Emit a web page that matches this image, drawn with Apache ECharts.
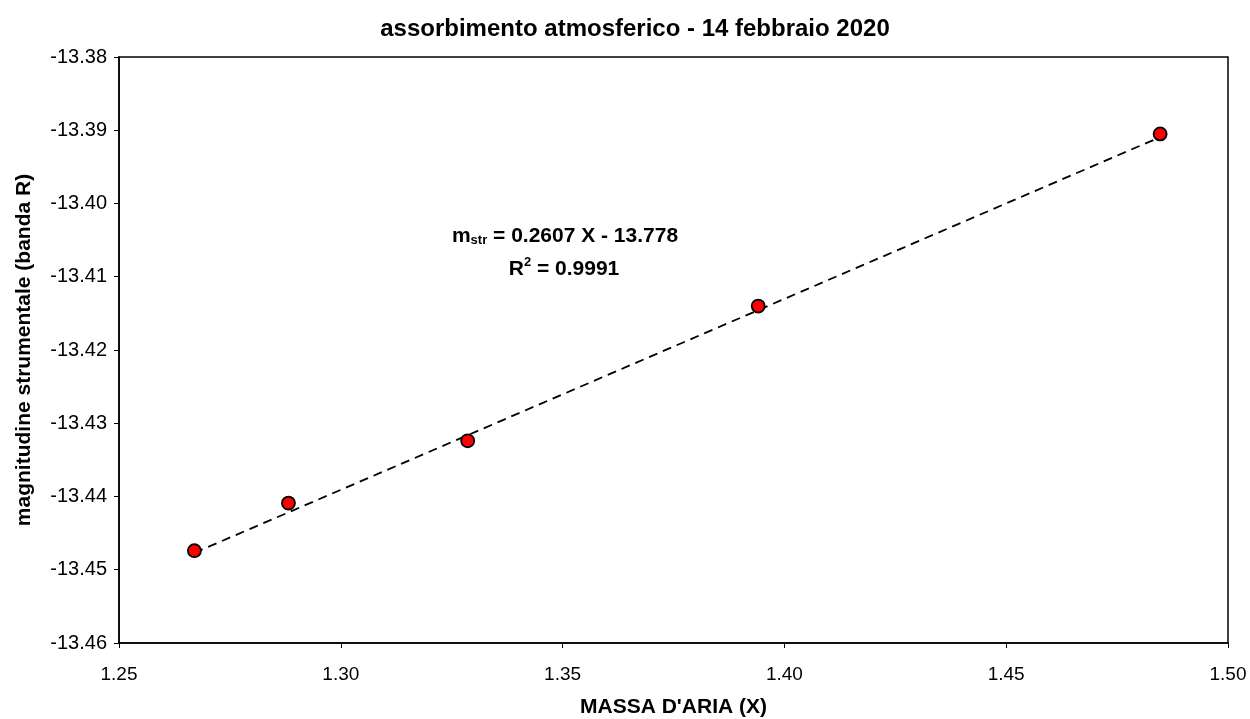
<!DOCTYPE html>
<html>
<head>
<meta charset="utf-8">
<script src="https://cdn.jsdelivr.net/npm/echarts@6/dist/echarts.min.js"></script>
<style>html,body{margin:0;padding:0;background:#fff}#c{width:1250px;height:719px}</style>
</head>
<body>
<div id="c"></div>
<script>
const airMass = [1.2670, 1.2882, 1.3286, 1.3941, 1.4847];
const magnitude = [-13.4474, -13.4409, -13.4324, -13.4140, -13.3905];
const fitSlope = 0.2607;
const fitIntercept = -13.778;
const fitR2 = 0.9991;
const titleText = 'assorbimento atmosferico - 14 febbraio 2020';
const xName = "MASSA D'ARIA (X)";
const yName = 'magnitudine strumentale (banda R)';

const pts = airMass.map((x, i) => [x, magnitude[i]]);
const xMin = Math.min(...airMass), xMax = Math.max(...airMass);
const fitLine = [[xMin, fitSlope * xMin + fitIntercept], [xMax, fitSlope * xMax + fitIntercept]];
const F = 'Liberation Sans, Arial, sans-serif';

const chart = echarts.init(document.getElementById('c'));
chart.setOption({
  animation: false,
  backgroundColor: '#fff',
  title: {
    text: titleText, left: 630, top: 12, textAlign: 'center',
    textStyle: { fontFamily: F, fontSize: 24, fontWeight: 'bold', color: '#000' }
  },
  grid: { left: 119, right: 22, top: 57, bottom: 76, show: true, borderColor: '#000', borderWidth: 1.5, containLabel: false, outerBoundsMode: 'none' },
  xAxis: {
    type: 'value', min: 1.25, max: 1.50, interval: 0.05,
    name: xName, nameLocation: 'middle', nameGap: 54,
    nameTextStyle: { fontFamily: F, fontSize: 21, fontWeight: 'bold', color: '#000' },
    axisLine: { show: true, onZero: false, lineStyle: { color: '#000', width: 1.5 } },
    axisTick: { show: true, inside: false, length: 5, lineStyle: { color: '#000' } },
    axisLabel: { fontFamily: F, fontSize: 19, color: '#000', margin: 22, formatter: v => v.toFixed(2) },
    splitLine: { show: false }
  },
  yAxis: {
    type: 'value', min: -13.46, max: -13.38, interval: 0.01,
    name: yName, nameLocation: 'middle', nameGap: 84,
    nameTextStyle: { fontFamily: F, fontSize: 21, fontWeight: 'bold', color: '#000' },
    axisLine: { show: true, onZero: false, lineStyle: { color: '#000', width: 1.5 } },
    axisTick: { show: true, inside: false, length: 5, lineStyle: { color: '#000' } },
    axisLabel: { fontFamily: F, fontSize: 20, color: '#000', margin: 12, formatter: v => v.toFixed(2) },
    splitLine: { show: false }
  },
  series: [
    {
      type: 'line', data: fitLine, symbol: 'none', silent: true,
      lineStyle: { color: '#000', width: 1.8, type: [9, 6] }, z: 2
    },
    {
      type: 'scatter', data: pts, symbol: 'circle', symbolSize: 13,
      itemStyle: { color: '#ff0000', opacity: 1, borderColor: '#000', borderWidth: 1.8 }, z: 3
    }
  ],
  graphic: [
    {
      type: 'text', x: 565, y: 235, z: 10,
      style: {
        text: '{b|m}{s|str}{b| = ' + fitSlope.toFixed(4) + ' X - ' + Math.abs(fitIntercept).toFixed(3) + '}',
        align: 'center', verticalAlign: 'middle',
        rich: {
          b: { fontFamily: F, fontSize: 21, fontWeight: 'bold', fill: '#000', lineHeight: 24, verticalAlign: 'bottom' },
          s: { fontFamily: F, fontSize: 13, fontWeight: 'bold', fill: '#000', lineHeight: 24, verticalAlign: 'bottom', padding: [9, 0, 0, 0] }
        }
      }
    },
    {
      type: 'text', x: 564, y: 268, z: 10,
      style: {
        text: '{b|R}{p|2}{b| = ' + fitR2.toFixed(4) + '}',
        align: 'center', verticalAlign: 'middle',
        rich: {
          b: { fontFamily: F, fontSize: 21, fontWeight: 'bold', fill: '#000', lineHeight: 24, verticalAlign: 'bottom' },
          p: { fontFamily: F, fontSize: 13, fontWeight: 'bold', fill: '#000', lineHeight: 24, verticalAlign: 'top' }
        }
      }
    }
  ]
});
</script>
</body>
</html>
